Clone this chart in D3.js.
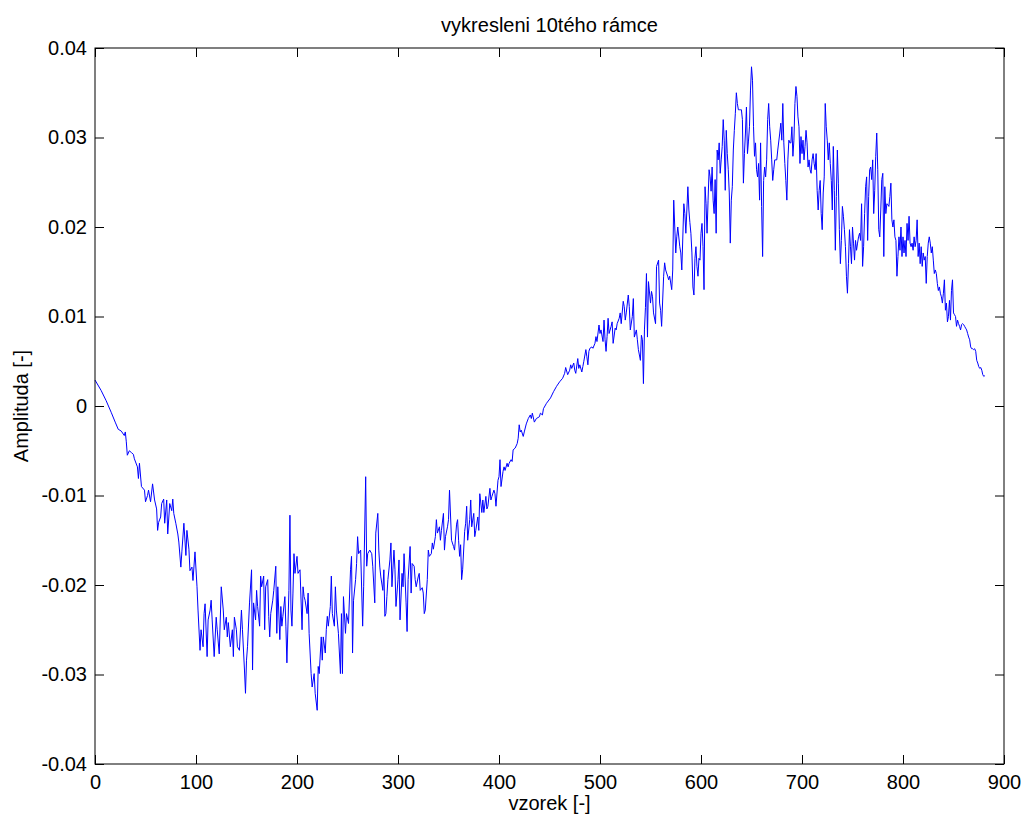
<!DOCTYPE html>
<html>
<head>
<meta charset="utf-8">
<script src="https://cdn.jsdelivr.net/npm/d3@7"></script>
<style>
  body { margin: 0; background: #fff; }
  svg { display: block; }
  text { font-family: "Liberation Sans", Arial, Helvetica, sans-serif; font-size: 20px; fill: #000; }
</style>
</head>
<body>
<svg id="chart" width="1024" height="819"></svg>
<script>
// Sample numbers of the 10th frame (x) and their amplitudes (y)
const sampleIdx = [
  0,6,11,16,20,23,26,29,30,31,32,34,36,38,39,42,43,44,46,49,
  50,52,53,55,57,59,61,62,63,65,66,68,69,71,72,74,76,77,78,80,
  82,83,85,86,88,90,91,93,94,96,97,99,101,102,104,105,107,108,109,111,
  112,114,115,116,118,120,121,123,125,127,128,130,131,132,134,136,137,138,140,141,
  143,145,146,148,149,150,151,
  153,155,156,157,159,160,161,163,164,165,167,168,169,171,172,173,174,176,177,179,
  180,181,183,184,185,186,188,189,190,192,193,194,195,196,197,198,200,201,203,205,
  206,207,208,210,211,212,214,215,217,218,220,221,222,224,225,226,228,229,230,231,
  233,234,235,237,238,239,241,243,244,245,246,248,249,251,253,254,255,256,258,259,
  260,261,263,265,266,268,269,270,272,274,275,277,278,280,281,282,283,285,286,287,
  288,289,290,292,293,294,296,297,298,300,301,302,304,305,306,308,309,310,312,313,
  314,316,317,318,320,321,322,324,325,326,327,329,330,331,333,334,335,337,338,339,
  341,342,343,345,346,347,349,350,351,353,355,356,358,359,360,361,362,363,364,366,
  367,368,369,371,372,373,375,376,377,379,380,381,383,384,385,387,388,389,391,392,
  393,395,396,397,399,400,401,402,404,405,406,408,409,410,412,413,414,416,418,419,
  420,421,422,424,425,427,429,431,432,433,435,437,440,441,443,444,447,451,
  454,457,460,463,465,466,468,470,471,472,474,475,476,478,479,480,482,483,484,486,
  487,488,489,490,492,493,495,496,497,499,500,501,503,504,505,506,507,508,509,511,
  512,513,515,516,517,519,520,521,523,524,525,526,528,529,530,532,533,534,536,537,
  538,540,541,542,543,544,545,546,547,548,550,551,552,553,555,556,558,559,560,561,
  563,564,565,567,568,569,571,572,573,575,576,577,579,580,581,583,584,585,587,588,
  589,590,591,592,593,594,595,596,597,598,599,
  600,601,602,603,604,605,606,607,608,609,610,611,612,613,614,615,616,617,618,619,
  620,621,622,623,624,625,626,627,628,629,630,631,632,633,634,635,636,637,638,639,
  640,641,642,643,644,645,646,647,648,649,650,651,652,653,654,655,656,657,658,659,
  660,661,662,663,664,665,666,667,668,669,670,671,672,673,675,676,678,679,680,681,
  682,683,684,685,686,687,688,689,690,691,692,693,694,695,696,697,698,699,700,701,
  702,703,704,705,706,707,708,709,710,711,712,713,714,715,716,717,718,719,720,721,722,723,724,725,726,727,
  728,729,730,731,732,733,734,735,736,737,738,739,740,741,742,743,744,745,746,747,
  748,749,750,751,752,753,754,755,756,757,758,759,760,761,762,763,764,765,766,767,
  768,769,770,771,772,773,774,775,776,777,778,779,780,781,782,783,784,785,786,787,
  788,789,790,791,792,793,794,795,796,797,798,799,800,801,802,803,804,805,806,807,
  808,809,810,811,812,813,814,815,816,817,818,819,820,821,822,823,824,825,826,827,
  828,829,830,831,832,833,834,835,836,837,838,839,840,841,842,843,844,845,846,847,
  848,849,850,851,852,853,854,855,856,857,858,859,860,861,862,863,864,865,866,867,
  868,869,870,871,872,873,874,875,876,877,878,879,880,881
];

const amplitude = [
  0.0029,0.00175,0.0006,-0.0007,-0.0018,-0.0026,-0.0028,-0.0033,-0.0029,-0.004,-0.0055,-0.005,-0.0052,-0.0054,-0.0059,-0.0068,-0.0081,-0.0064,-0.009,-0.0094,
  -0.0107,-0.01,-0.0094,-0.0107,-0.0087,-0.0105,-0.0115,-0.0139,-0.013,-0.0124,-0.0109,-0.0104,-0.0131,-0.0105,-0.0143,-0.0109,-0.0117,-0.0104,-0.012,-0.0131,
  -0.0143,-0.0152,-0.018,-0.0163,-0.0131,-0.0167,-0.0139,-0.016,-0.0184,-0.018,-0.0195,-0.0163,-0.0202,-0.0228,-0.0273,-0.025,-0.0269,-0.0232,-0.0221,-0.028,
  -0.0239,-0.0228,-0.0217,-0.0239,-0.028,-0.0236,-0.025,-0.0277,-0.0202,-0.0228,-0.025,-0.0236,-0.0258,-0.0242,-0.0269,-0.025,-0.028,-0.0236,-0.025,-0.0269,
  -0.0273,-0.0228,-0.025,-0.0295,-0.0321,-0.0284,-0.0269,
  -0.022,-0.0183,-0.0295,-0.022,-0.0239,-0.0206,-0.0224,-0.0246,-0.019,-0.0202,-0.019,-0.025,-0.0202,-0.0194,-0.0235,-0.0258,-0.0232,-0.0217,-0.0206,-0.0179,
  -0.0254,-0.0202,-0.0261,-0.0224,-0.0246,-0.0235,-0.0213,-0.0246,-0.0287,-0.0206,-0.0122,-0.0228,-0.0246,-0.0209,-0.0165,-0.0187,-0.0168,-0.0187,-0.0183,-0.025,
  -0.0202,-0.0213,-0.0217,-0.0232,-0.0209,-0.0254,-0.0299,-0.0314,-0.0299,-0.0321,-0.034,-0.0291,-0.0299,-0.0258,-0.0284,-0.0258,-0.0276,-0.025,-0.0235,-0.0246,
  -0.0224,-0.019,-0.0232,-0.0246,-0.0202,-0.0228,-0.0254,-0.0299,-0.0232,-0.0299,-0.0213,-0.0254,-0.0232,-0.0243,-0.0183,-0.0168,-0.0276,-0.0217,-0.0194,-0.0176,
  -0.0146,-0.0165,-0.0161,-0.0246,-0.0202,-0.0079,-0.0179,-0.0165,-0.0161,-0.0165,-0.0179,-0.022,-0.0142,-0.012,-0.0161,-0.018,-0.0191,-0.0206,-0.0183,-0.0235,
  -0.0232,-0.0213,-0.0194,-0.0172,-0.0153,-0.0202,-0.0161,-0.0183,-0.0224,-0.0194,-0.0172,-0.0239,-0.0187,-0.0202,-0.0165,-0.022,-0.0252,-0.0194,-0.0157,-0.0209,
  -0.0176,-0.0179,-0.0194,-0.0202,-0.0191,-0.0187,-0.0206,-0.0203,-0.0209,-0.0232,-0.0228,-0.0194,-0.0161,-0.0168,-0.0165,-0.0153,-0.016,-0.0146,-0.0127,-0.0142,
  -0.0135,-0.015,-0.0139,-0.012,-0.0161,-0.0146,-0.0135,-0.0127,-0.0094,-0.015,-0.0157,-0.0161,-0.0132,-0.0127,-0.015,-0.0168,-0.0155,-0.0194,-0.0183,-0.014,
  -0.0131,-0.0112,-0.015,-0.0127,-0.0105,-0.0135,-0.012,-0.0146,-0.0139,-0.0124,-0.0139,-0.0098,-0.0119,-0.0105,-0.0119,-0.0101,-0.0115,-0.0112,-0.0092,-0.0105,
  -0.0101,-0.0094,-0.0098,-0.0112,-0.0083,-0.0079,-0.006,-0.009,-0.0073,-0.0068,-0.0072,-0.0064,-0.0068,-0.0064,-0.006,-0.0062,-0.0049,-0.0047,-0.0042,-0.0036,
  -0.0021,-0.0029,-0.0027,-0.0034,-0.0029,-0.002,-0.0014,-0.001,-0.0014,-0.0008,-0.0018,-0.0014,-0.0012,-0.0008,-0.001,-0.0003,0.0003,0.0009,
  0.0016,0.0022,0.0027,0.0031,0.00365,0.0043,0.0035,0.004,0.0046,0.0042,0.0048,0.004,0.00365,0.0053,0.0042,0.0046,0.0038,0.0044,0.005,0.0063,
  0.0055,0.0046,0.0061,0.00645,0.0066,0.00645,0.007,0.00775,0.0072,0.00905,0.0081,0.0085,0.0072,0.0096,0.0074,0.0061,0.00775,0.0098,0.0081,0.0089,
  0.0094,0.007,0.0087,0.0085,0.0092,0.0098,0.0104,0.0092,0.0117,0.0111,0.0096,0.0104,0.0124,0.0111,0.0085,0.01,0.012,0.0077,0.0085,0.0074,
  0.0063,0.0051,0.0079,0.0074,0.0025,0.0085,0.011,0.0148,0.0077,0.0139,0.0115,0.0128,0.0122,0.0104,0.0092,0.0156,0.0163,0.0115,0.0107,0.0089,
  0.0145,0.016,0.0152,0.0145,0.0141,0.0145,0.013,0.0152,0.023,0.0171,0.0189,0.02,0.0178,0.0171,0.0152,0.0226,0.0215,0.0193,0.0245,0.0219,
  0.0205,0.0193,0.0171,0.0133,0.0124,0.0165,0.0178,0.0156,0.0145,0.0165,0.0163,
  0.0193,0.0204,0.0178,0.013,0.0245,0.0226,0.0193,0.023,0.0264,0.0256,0.024,0.0267,0.023,0.0215,0.0253,0.0193,0.0286,0.0275,0.0294,0.026,
  0.0275,0.029,0.032,0.0297,0.0241,0.0308,0.0282,0.0264,0.0238,0.0182,0.023,0.0245,0.0286,0.0308,0.0327,0.035,0.0338,0.0331,0.0331,0.0331,
  0.0331,0.032,0.0249,0.0282,0.0305,0.0334,0.0282,0.0296,0.0312,0.0353,0.0379,0.0364,0.0312,0.0279,0.0294,0.0264,0.0256,0.0271,0.023,0.0294,
  0.0223,0.0167,0.0252,0.0267,0.0256,0.0275,0.032,0.0338,0.0312,0.0297,0.0275,0.0252,0.0264,0.0275,0.0275,0.0286,0.0305,0.0316,0.0297,0.0338,
  0.0294,0.0271,0.0252,0.023,0.0275,0.0297,0.0294,0.0294,0.0312,0.0279,0.0297,0.0338,0.0357,0.0346,0.0323,0.0312,0.0271,0.0301,0.0282,0.0297,
  0.0275,0.029,0.0308,0.0294,0.0267,0.0275,0.0264,0.026,0.0275,0.0282,0.0271,0.0264,0.0282,0.0241,0.0219,0.0241,0.0252,0.0215,0.0197,0.0238,0.0256,0.0338,0.0312,0.0297,0.0275,0.0294,
  0.0271,0.0252,0.0219,0.029,0.0241,0.0174,0.0234,0.0286,0.0249,0.0197,0.0159,0.0185,0.0223,0.0212,0.0197,0.0178,0.0145,0.0126,0.0159,0.0197,
  0.0178,0.0159,0.02,0.0182,0.0163,0.0185,0.0174,0.0182,0.0189,0.0193,0.0185,0.0226,0.0156,0.0178,0.0215,0.0245,0.0256,0.0185,0.0234,0.0264,
  0.0267,0.0253,0.0275,0.0215,0.0241,0.0279,0.0305,0.0264,0.0197,0.0189,0.0219,0.0253,0.026,0.0167,0.0245,0.0215,0.0226,0.0225,0.0223,0.0234,
  0.0249,0.0208,0.02,0.0208,0.0189,0.0185,0.0145,0.0167,0.0189,0.0174,0.02,0.0167,0.0189,0.0171,0.0185,0.0167,0.0204,0.0185,0.0212,0.0182,
  0.0178,0.0182,0.0174,0.0189,0.0178,0.0185,0.0208,0.0167,0.0182,0.0159,0.0178,0.0156,0.0171,0.0163,0.0167,0.0137,0.0167,0.0182,0.0189,0.0182,
  0.0171,0.0178,0.0163,0.0148,0.0152,0.0148,0.0137,0.0129,0.0133,0.0126,0.0122,0.0115,0.0126,0.0141,0.0107,0.0115,0.0094,0.01,0.0118,0.0096,
  0.0129,0.0141,0.0104,0.0102,0.01,0.0089,0.0096,0.0092,0.0089,0.0085,0.0091,0.0092,0.0091,0.0089,0.0087,0.0085,0.0081,0.0077,0.0074,0.0066,
  0.0064,0.0064,0.0063,0.0064,0.0061,0.0051,0.0048,0.0044,0.0042,0.0043,0.004,0.0035,0.0033,0.0034
];

const xTicks = [0, 100, 200, 300, 400, 500, 600, 700, 800, 900];
const yTicks = [-0.04, -0.03, -0.02, -0.01, 0, 0.01, 0.02, 0.03, 0.04];
const yTickLabels = ["-0.04", "-0.03", "-0.02", "-0.01", "0", "0.01", "0.02", "0.03", "0.04"];

const titleText = "vykresleni 10tého rámce";
const xLabelText = "vzorek [-]";
const yLabelText = "Amplituda [-]";

// Axes box
const box = { left: 95, right: 1004, top: 48, bottom: 764 };
const tickLen = 9;

const svg = d3.select("#chart");
svg.append("rect").attr("width", 1024).attr("height", 819).attr("fill", "#fff");

const x = d3.scaleLinear().domain([0, 900]).range([box.left, box.right]);
const y = d3.scaleLinear().domain([-0.04, 0.04]).range([box.bottom, box.top]);

// Signal trace
const points = d3.zip(sampleIdx, amplitude);
const line = d3.line().x(d => x(d[0])).y(d => y(d[1]));
svg.append("path")
  .datum(points)
  .attr("d", line)
  .attr("fill", "none")
  .attr("stroke", "#0000ff")
  .attr("stroke-width", 1)
  .attr("stroke-linejoin", "round");

function styleAxis(g) {
  g.attr("font-size", null).attr("font-family", null);
  g.select(".domain").remove();
  g.selectAll(".tick line").attr("stroke", "#000");
  g.selectAll(".tick text").attr("fill", "#000");
}

// Bottom axis with labels, ticks pointing inward
svg.append("g")
  .attr("transform", `translate(0,${box.bottom})`)
  .call(d3.axisBottom(x).tickValues(xTicks).tickSizeInner(-tickLen).tickSizeOuter(0).tickPadding(11))
  .call(styleAxis);

// Top axis, ticks only
svg.append("g")
  .attr("transform", `translate(0,${box.top})`)
  .call(d3.axisTop(x).tickValues(xTicks).tickSizeInner(-tickLen).tickSizeOuter(0).tickFormat(""))
  .call(styleAxis);

// Left axis with labels
svg.append("g")
  .attr("transform", `translate(${box.left},0)`)
  .call(d3.axisLeft(y).tickValues(yTicks).tickFormat((d, i) => yTickLabels[i])
    .tickSizeInner(-tickLen).tickSizeOuter(0).tickPadding(8))
  .call(styleAxis);

// Right axis, ticks only
svg.append("g")
  .attr("transform", `translate(${box.right},0)`)
  .call(d3.axisRight(y).tickValues(yTicks).tickSizeInner(-tickLen).tickSizeOuter(0).tickFormat(""))
  .call(styleAxis);

// Frame around the plot area
svg.append("rect")
  .attr("x", box.left).attr("y", box.top)
  .attr("width", box.right - box.left).attr("height", box.bottom - box.top)
  .attr("fill", "none").attr("stroke", "#000").attr("stroke-width", 1);

const midX = (box.left + box.right) / 2;
const midY = (box.top + box.bottom) / 2;

svg.append("text")
  .attr("x", midX).attr("y", 32)
  .attr("text-anchor", "middle")
  .text(titleText);

svg.append("text")
  .attr("x", midX).attr("y", 810)
  .attr("text-anchor", "middle")
  .text(xLabelText);

svg.append("text")
  .attr("transform", `translate(28,${midY}) rotate(-90)`)
  .attr("text-anchor", "middle")
  .text(yLabelText);
</script>
</body>
</html>
